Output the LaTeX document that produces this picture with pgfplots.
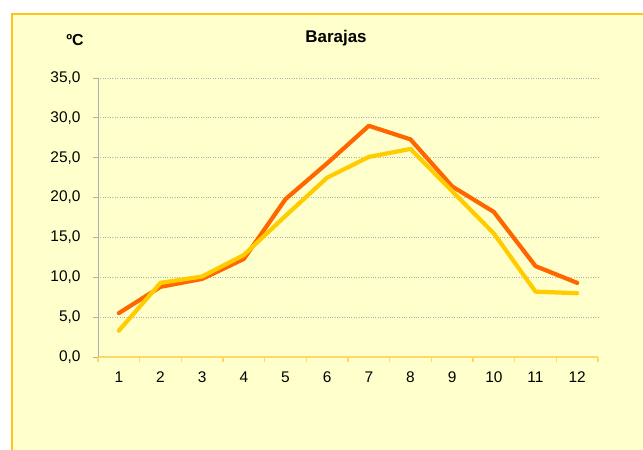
\documentclass[border=0pt]{standalone}
\usepackage{pgfplots}
\pgfplotsset{compat=1.18}
\usepackage{fontspec}
\setmainfont{Liberation Sans}
\definecolor{bgy}{HTML}{FFFFCC}
\definecolor{brd}{HTML}{FFC31A}
\definecolor{lorange}{HTML}{FF6600}
\definecolor{lyellow}{HTML}{FFCC00}
\definecolor{xax}{HTML}{FFD966}
\definecolor{gridg}{HTML}{B0B0B0}
\begin{document}
\begin{tikzpicture}
\useasboundingbox (0,0) rectangle (643bp,450bp);
\fill[bgy] (12bp,436bp) rectangle (643bp,0bp);
\draw[brd, line width=2bp] (12bp,0bp) -- (12bp,436bp) -- (643bp,436bp);
\node[font=\fontsize{17}{20}\selectfont\bfseries] at (336bp,412bp) {Barajas};
\node[font=\fontsize{16}{19}\selectfont\bfseries] at (75bp,410bp) {ºC};
\begin{axis}[
  at={(98bp,93bp)}, anchor=south west,
  width=500bp, height=279bp, scale only axis,
  xmin=0.5, xmax=12.5, ymin=0, ymax=35,
  axis x line*=bottom, axis y line*=left,
  axis line style={-},
  x axis line style={color=xax, line width=1.2bp},
  y axis line style={color=gridg, line width=0.8bp},
  xtick={1,...,12},
  minor xtick={0.5,1.5,...,12.5},
  major x tick style={draw=none},
  minor x tick style={color=xax, line width=1.2bp},
  tick align=outside,
  minor tick length=5bp,
  major tick length=5bp,
  ytick={0,5,...,35},
  y tick style={color=gridg, line width=0.8bp},
  ymajorgrids,
  major grid style={gridg, dotted, line width=0.8bp},
  tick label style={font=\fontsize{15.5}{18}\selectfont, black},
  /pgf/number format/assume math mode=true,
  y tick label style={/pgf/number format/fixed, /pgf/number format/fixed zerofill, /pgf/number format/precision=1, /pgf/number format/use comma, /pgf/number format/1000 sep={}, xshift=-9bp},
  x tick label style={yshift=-6bp},
  clip=false,
]
\addplot[lorange, line width=4.2bp, line join=round, line cap=round] coordinates {
 (1,5.5) (2,8.8) (3,9.8) (4,12.3) (5,19.8) (6,24.3) (7,29.0) (8,27.3) (9,21.4) (10,18.2) (11,11.4) (12,9.3)};
\addplot[lyellow, line width=4.2bp, line join=round, line cap=round] coordinates {
 (1,3.3) (2,9.3) (3,10.1) (4,12.8) (5,17.7) (6,22.5) (7,25.1) (8,26.1) (9,20.8) (10,15.5) (11,8.2) (12,8.0)};
\end{axis}
\end{tikzpicture}
\end{document}
